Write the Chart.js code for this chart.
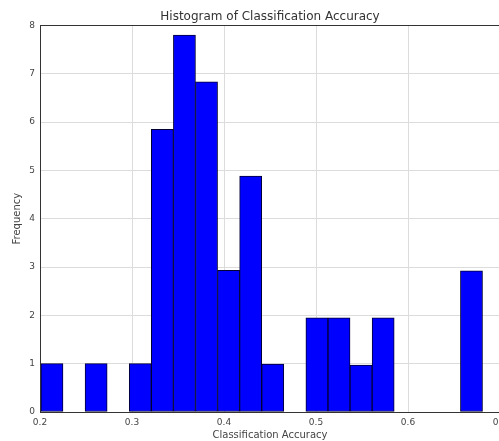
<!DOCTYPE html>
<html>
<head>
<meta charset="utf-8">
<script src="https://cdn.jsdelivr.net/npm/chart.js@4.4.1/dist/chart.umd.min.js"></script>
<style>
    html, body { margin: 0; padding: 0; background: #fff; overflow: hidden; }
    #wrap { position: relative; width: 540px; height: 441px; }
</style>
</head>
<body>
<div id="wrap"><canvas id="chartHist"></canvas></div>
<script>
// bin centres of the histogram (bin width about 0.024)
const binCenters = [0.213, 0.237, 0.261, 0.285, 0.309, 0.333, 0.357, 0.381, 0.405, 0.429,
                    0.453, 0.477, 0.501, 0.525, 0.549, 0.573, 0.597, 0.621, 0.645, 0.669];
// frequency
const counts = [1, 0, 1, 0, 1, 5.85, 7.8, 6.83, 2.93, 4.88,
                0.99, 0, 1.95, 1.95, 0.97, 1.95, 0, 0, 0, 2.92];
const xTicks = [0.2, 0.3, 0.4, 0.5, 0.6, 0.7];
const yTicks = [0, 1, 2, 3, 4, 5, 6, 7, 8];

const ctx = document.getElementById("chartHist");

// matplotlib style box round the plot area
const frame = {
    id: "frame",
    afterDatasetsDraw(chart) {
        const a = chart.chartArea;
        const c = chart.ctx;
        c.save();
        c.strokeStyle = "#333";
        c.lineWidth = 1;
        c.strokeRect(Math.round(a.left) + 0.5, Math.round(a.top) + 0.5,
                     Math.round(a.right - a.left), Math.round(a.bottom - a.top));
        c.restore();
    },
};

new Chart(ctx, {
    type: "bar",
    data: {
        datasets: [
            {
                label: "Frequency",
                data: binCenters.map((x, i) => ({ x: x, y: counts[i] === 0 ? null : counts[i] })),
                backgroundColor: "#0000ff",
                borderColor: "#000033",
                borderWidth: 1,
                borderSkipped: false,
                barPercentage: 1,
                categoryPercentage: 1,
            },
        ],
    },
    options: {
        responsive: true,
        maintainAspectRatio: false,
        animation: false,
        layout: { padding: { left: 0, right: 40, top: 0, bottom: 0 } },
        plugins: {
            legend: { display: false },
            tooltip: { enabled: false },
            title: {
                display: true,
                text: "Histogram of Classification Accuracy",
                fullSize: false,
                color: "#333",
                font: { family: "DejaVu Sans", size: 12, weight: "normal" },
                padding: { top: 10, bottom: 1 },
            },
        },
        scales: {
            x: {
                type: "linear",
                min: 0.2,
                max: 0.7,
                offset: false,
                afterBuildTicks: (s) => { s.ticks = xTicks.map((v) => ({ value: v })); },
                afterFit: (s) => { s.height = 29; },
                grid: { color: "#dcdcdc", drawTicks: false, offset: false },
                border: { display: false },
                ticks: {
                    padding: 5,
                    color: "#444",
                    font: { family: "DejaVu Sans", size: 9 },
                    maxRotation: 0,
                    callback: (v) => v.toFixed(1),
                },
                title: {
                    display: true,
                    text: "Classification Accuracy",
                    color: "#444",
                    font: { family: "DejaVu Sans", size: 10 },
                    padding: { top: 0, bottom: 0 },
                },
            },
            y: {
                min: 0,
                max: 8,
                afterBuildTicks: (s) => { s.ticks = yTicks.map((v) => ({ value: v })); },
                afterFit: (s) => { s.width = 40; },
                grid: { color: "#dcdcdc", drawTicks: false },
                border: { display: false },
                ticks: {
                    padding: 5,
                    color: "#444",
                    font: { family: "DejaVu Sans", size: 9 },
                },
                title: {
                    display: true,
                    text: "Frequency",
                    color: "#444",
                    font: { family: "DejaVu Sans", size: 10 },
                    padding: { top: 11, bottom: 0 },
                },
            },
        },
    },
    plugins: [frame],
});
</script>
</body>
</html>
